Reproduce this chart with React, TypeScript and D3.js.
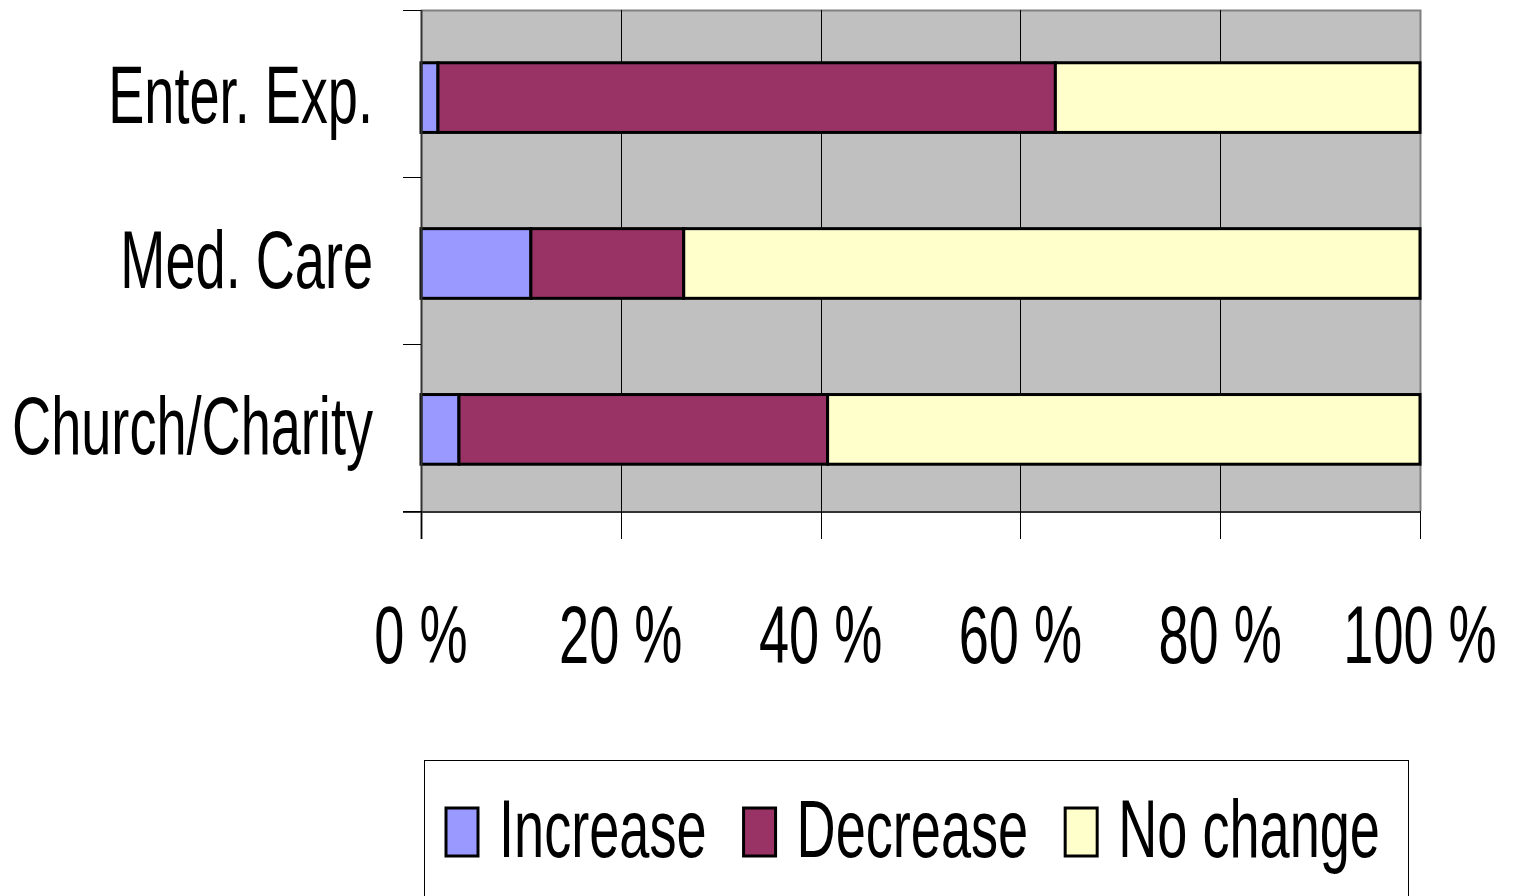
import React, { useEffect, useRef } from "react";
import * as d3 from "d3";

const categories = ["Enter. Exp.", "Med. Care", "Church/Charity"];
const seriesNames = ["Increase", "Decrease", "No change"];
const increaseValues = [1.7, 11.0, 3.8];
const decreaseValues = [61.8, 15.3, 36.9];
const noChangeValues = [36.5, 73.7, 59.3];
const seriesColors = ["#9999FF", "#993366", "#FFFFCC"];
const xTicks = [0, 20, 40, 60, 80, 100];
const xTickLabels = ["0 %", "20 %", "40 %", "60 %", "80 %", "100 %"];

const FONT = "'Liberation Sans', Arial, sans-serif";
const FS = 82;
const SX = 0.66;

export default function App() {
  const ref = useRef<SVGSVGElement>(null);

  useEffect(() => {
    const svg = d3.select(ref.current);
    svg.selectAll("*").remove();

    const left = 421, right = 1420, top = 10, bottom = 511;
    const x = d3.scaleLinear().domain([0, 100]).range([left, right]);
    const y = d3.scaleBand<string>().domain(categories).range([top, bottom])
      .paddingInner(0.58).paddingOuter(0.3).align(0.53);

    const rows = categories.map((c, i) => ({ cat: c, vals: [increaseValues[i], decreaseValues[i], noChangeValues[i]] }));
    const stacked = rows.map(r => {
      let acc = 0;
      return r.vals.map((v, k) => { const s = acc; acc += v; return { cat: r.cat, k, x0: s, x1: acc }; });
    });

    // plot background
    svg.append("rect").attr("x", left).attr("y", top).attr("width", right - left).attr("height", bottom - top).attr("fill", "#C0C0C0");
    // top/right border
    svg.append("path").attr("d", `M${left},${top + 0.5}H${right + 0.5}V${bottom}`).attr("fill", "none").attr("stroke", "#808080").attr("stroke-width", 2);
    // gridlines
    svg.selectAll(".grid").data(xTicks.filter(t => t > 0 && t < 100)).enter().append("line")
      .attr("x1", d => Math.round(x(d)) + 0.5).attr("x2", d => Math.round(x(d)) + 0.5)
      .attr("y1", top).attr("y2", bottom).attr("stroke", "#000").attr("stroke-width", 1);

    // bars
    const g = svg.append("g");
    stacked.flat().forEach(s => {
      g.append("rect")
        .attr("x", x(s.x0)).attr("y", y(s.cat)!)
        .attr("width", x(s.x1) - x(s.x0)).attr("height", y.bandwidth())
        .attr("fill", seriesColors[s.k]).attr("stroke", "#000").attr("stroke-width", 3);
    });

    // axes
    svg.append("line").attr("x1", left + 0.5).attr("x2", left + 0.5).attr("y1", top).attr("y2", bottom + 28).attr("stroke", "#333").attr("stroke-width", 2);
    svg.append("line").attr("x1", left - 18).attr("x2", right + 1).attr("y1", bottom + 1).attr("y2", bottom + 1).attr("stroke", "#333").attr("stroke-width", 2);
    // y ticks at category boundaries
    const step = (bottom - top) / categories.length;
    const bounds = d3.range(categories.length + 1).map(i => top + i * step);
    svg.selectAll(".yt").data(bounds).enter().append("line")
      .attr("x1", left - 18).attr("x2", left).attr("y1", d => Math.round(d) + 0.5).attr("y2", d => Math.round(d) + 0.5)
      .attr("stroke", "#000").attr("stroke-width", 1);
    // x ticks
    svg.selectAll(".xt").data(xTicks).enter().append("line")
      .attr("x1", d => Math.round(x(d)) + 0.5).attr("x2", d => Math.round(x(d)) + 0.5)
      .attr("y1", bottom).attr("y2", bottom + 28).attr("stroke", "#000").attr("stroke-width", 1);

    // category labels
    categories.forEach(c => {
      const cy = y(c)! + y.bandwidth() / 2;
      svg.append("text")
        .attr("transform", `translate(373,${cy + 25}) scale(${SX},1)`)
        .attr("text-anchor", "end").attr("font-family", FONT).attr("font-size", FS).attr("fill", "#000")
        .text(c);
    });

    // x tick labels
    xTicks.forEach((t, i) => {
      svg.append("text")
        .attr("transform", `translate(${x(t)},663) scale(${SX},1)`)
        .attr("text-anchor", "middle").attr("font-family", FONT).attr("font-size", FS).attr("fill", "#000")
        .text(xTickLabels[i]);
    });

    // legend
    svg.append("rect").attr("x", 424.5).attr("y", 760.5).attr("width", 984).attr("height", 200)
      .attr("fill", "#fff").attr("stroke", "#000").attr("stroke-width", 1);
    let lx = 445;
    seriesNames.forEach((n, k) => {
      svg.append("rect").attr("x", lx + 1).attr("y", 808).attr("width", 32).attr("height", 48)
        .attr("fill", seriesColors[k]).attr("stroke", "#000").attr("stroke-width", 3);
      const t = svg.append("text")
        .attr("transform", `translate(${lx + 54},857) scale(${SX},1)`)
        .attr("font-family", FONT).attr("font-size", FS).attr("fill", "#000")
        .text(n);
      const w = (t.node() as SVGTextElement).getComputedTextLength() * SX;
      lx = lx + 54 + w + 36;
    });
  }, []);

  return (
    <svg ref={ref} width={1514} height={896} style={{ position: "absolute", left: 0, top: 0, background: "#fff" }} />
  );
}
